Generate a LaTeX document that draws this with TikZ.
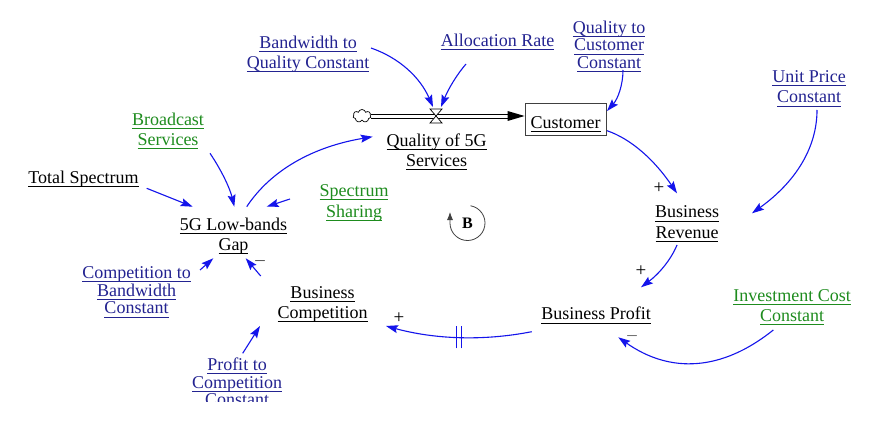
\documentclass[tikz,border=0pt]{standalone}
\usepackage{fontspec}
\setmainfont{Liberation Serif}
\usetikzlibrary{arrows.meta,shapes.symbols}
\definecolor{navy}{RGB}{35,35,145}
\definecolor{vgreen}{RGB}{30,140,30}
\definecolor{arrblue}{RGB}{20,20,235}
\newcommand\ulin[1]{\leavevmode\setbox0\hbox{#1}\rlap{\rule[-3.5pt]{\wd0}{0.9pt}}\box0}
\tikzset{
 var/.style={inner sep=0pt, align=center, font=\fontsize{18}{20.5}\selectfont},
 var3/.style={var, font=\fontsize{18}{17.7}\selectfont},
 cst/.style={text=navy},
 grn/.style={text=vgreen},
 conn/.style={draw=arrblue, line width=1.1pt, -{Stealth[length=12pt,width=8pt,inset=2pt]}},
 pol/.style={font=\fontsize{19}{19}\selectfont, inner sep=0pt},
 pipe/.style={line width=0.9pt},
}
\begin{document}
\begin{tikzpicture}[x=1pt,y=-1pt]
\fill[white] (0,0) rectangle (874,422);
\useasboundingbox (0,0) rectangle (874,422);
\begin{scope}
\clip (0,0) rectangle (874,401.5);
% variables
\node[var,cst] (bw) at (308,54) {\ulin{Bandwidth to}\\\ulin{Quality Constant}};
\node[var,cst] (alloc) at (497.5,42) {\ulin{Allocation Rate}};
\node[var3,cst] (q2c) at (609,46.5) {\ulin{Quality to}\\\ulin{Customer}\\\ulin{Constant}};
\node[cloud, cloud puffs=7, draw, line width=0.7pt, minimum width=18pt, minimum height=13pt, inner sep=0pt, aspect=1.4] (cloud) at (362,116) {};
\node[inner sep=0pt, minimum width=12pt, minimum height=16pt] (valve) at (436,116) {};
\node[var, draw=black!75, line width=0.9pt, minimum width=81pt, minimum height=32pt, text height=23.8pt, text depth=4.4pt] (cust) at (565.5,119) {\ulin{Customer}};
\node[var] (q5g) at (436.5,152) {\ulin{Quality of 5G}\\\ulin{Services}};
\node[var,cst] (unit) at (809,88.5) {\ulin{Unit Price}\\\ulin{Constant}};
\node[var,grn] (bcast) at (168,131) {\ulin{Broadcast}\\\ulin{Services}};
\node[var] (total) at (83.5,178.7) {\ulin{Total Spectrum}};
\node[var,grn] (share) at (354,203) {\ulin{Spectrum}\\\ulin{Sharing}};
\node[var] (gap) at (233.5,236) {\ulin{5G Low-bands}\\\ulin{Gap}};
\node[var3,cst] (c2b) at (136.5,292) {\ulin{Competition to}\\\ulin{Bandwidth}\\\ulin{Constant}};
\node[var] (bcomp) at (322.5,304.4) {\ulin{Business}\\\ulin{Competition}};
\node[var3,cst] (p2c) at (237,383.7) {\ulin{Profit to}\\\ulin{Competition}\\\ulin{Constant}};
\node[var] (brev) at (687,224) {\ulin{Business}\\\ulin{Revenue}};
\node[var] (bprof) at (596,315.4) {\ulin{Business Profit}};
\node[var,grn] (inv) at (792,307.2) {\ulin{Investment Cost}\\\ulin{Constant}};
% flow pipe
\draw[pipe] ([yshift=2pt]cloud.east) -- ([yshift=2pt,xshift=-16pt]cloud.east -| cust.west);
\draw[pipe] ([yshift=-2pt]cloud.east) -- ([yshift=-2pt,xshift=-16pt]cloud.east -| cust.west);
\fill (cloud.east -| cust.west) -- ++(-17,-5) -- ++(0,10) -- cycle;
\draw[fill=white, line width=0.7pt] (valve.center) -- ++(-6,-7) -- ++(12,0) -- cycle;
\draw[fill=white, line width=0.7pt] (valve.center) -- ++(-6,7) -- ++(12,0) -- cycle;
% connectors
\draw[conn] ([shift={(63,-6)}]bw.center) .. controls (399.7,58) and (420.3,77.7) .. ([shift={(-3,-9)}]valve.center);
\draw[conn] ([shift={(-31.5,22)}]alloc.center) .. controls (456.7,74.7) and (448.3,89) .. ([shift={(5,-9)}]valve.center);
\draw[conn] ([shift={(14,23.5)}]q2c.center) .. controls (623,85.3) and (617.7,99) .. ([shift={(41.5,-8)}]cust.center);
\draw[conn] ([shift={(41.5,11.7)}]cust.center) .. controls (631,138.9) and (654.3,159.8) .. ([shift={(-10,-30.7)}]brev.center);
\draw[conn] ([shift={(8,21.5)}]unit.center) .. controls (817,148) and (795.3,182.2) .. ([shift={(65,-10.7)}]brev.center);
\draw[conn] ([shift={(-10,21)}]brev.center) .. controls (671,259.7) and (659,273.8) .. ([shift={(45,-28.1)}]bprof.center);
\draw[conn] ([shift={(-18.7,22.8)}]inv.center) .. controls (721.8,371.3) and (670.1,373.8) .. ([shift={(22.3,21.9)}]bprof.center);
\draw[conn] ([shift={(-64.3,16.3)}]bprof.center) .. controls (483.2,341.2) and (434.7,339.3) .. node[pos=0.5, inner sep=0pt, text=arrblue] (delay) {\rule{0.9pt}{22pt}\hspace{3.2pt}\rule{0.9pt}{22pt}} ([shift={(63.5,21.6)}]bcomp.center);
\draw[conn] ([shift={(5.7,-30.4)}]p2c.center) -- ([shift={(-62.5,21.6)}]bcomp.center);
\draw[conn] ([shift={(-61.8,-28.4)}]bcomp.center) -- ([shift={(12.2,22.3)}]gap.center);
\draw[conn] ([shift={(63.5,-22)}]c2b.center) -- ([shift={(-20.2,22.3)}]gap.center);
\draw[conn] ([shift={(63.2,9.6)}]total.center) -- ([shift={(-40.8,-29.3)}]gap.center);
\draw[conn] ([shift={(42,22.3)}]bcast.center) .. controls (222,171.1) and (230.1,188.9) .. ([shift={(0.8,-29.3)}]gap.center);
\draw[conn] ([shift={(-64,-4)}]share.center) -- ([shift={(33.2,-29.3)}]gap.center);
\draw[conn] ([shift={(13.2,-29.3)}]gap.center) .. controls (271.1,170) and (313.1,146.7) .. ([shift={(-63.8,-15.3)}]q5g.center);
% polarities
\node[pol] (p1) at (659,188) {+};
\node[pol] (p2) at (641,271) {+};
\node[pol,text=black!60] (m1) at (632,338) {–};
\node[pol] (p3) at (399,318) {+};
\node[pol,text=black!70] (m2) at (260,263) {–};
% loop
\node[font=\bfseries\fontsize{16}{16}\selectfont, inner sep=0pt] (loopB) at (467.5,223) {B};
\draw[black!75, line width=0.8pt, -{Latex[length=8pt,width=6pt]}] ([shift={(-80:17.5)}]loopB.center) arc[start angle=-80, end angle=180, radius=17.5] -- ++(0,-11);
\end{scope}
\end{tikzpicture}
\end{document}
